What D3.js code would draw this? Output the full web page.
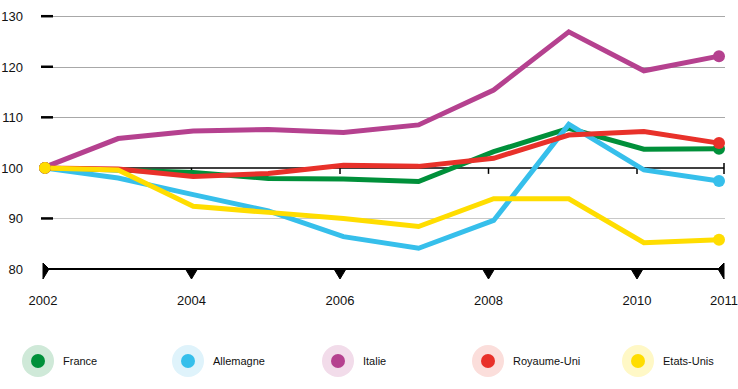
<!DOCTYPE html>
<html><head><meta charset="utf-8">
<script src="https://cdn.jsdelivr.net/npm/d3@7/dist/d3.min.js"></script>
<style>body{margin:0;background:#fff}svg{display:block;font-family:"Liberation Sans",Arial,sans-serif}</style>
</head><body><svg id="c" width="738" height="389"></svg>
<script>
const years = [2002,2003,2004,2005,2006,2007,2008,2009,2010,2011];
const tickYears = [2002,2004,2006,2008,2010,2011];
const yTicks = [80,90,100,110,120,130];
const seriesNames = ["France","Allemagne","Italie","Royaume-Uni","Etats-Unis"];
const france = [100,99.6,99.1,97.9,97.8,97.3,103.2,107.8,103.7,103.8];
const allemagne = [100,98.0,94.7,91.5,86.4,84.1,89.6,108.6,99.6,97.4];
const italie = [100,105.8,107.3,107.6,107.0,108.5,115.4,126.9,119.2,122.1];
const royaumeUni = [100,99.8,98.3,98.9,100.5,100.3,101.9,106.5,107.2,104.9];
const etatsUnis = [100,99.6,92.4,91.2,90.0,88.4,93.9,93.9,85.2,85.8];
const colors = ["#00903a","#36bfeb","#b5418f","#e8312a","#ffdd00"];
const halos = ["#cfe9d8","#dff3fb","#f2dcea","#fbdedb","#fff8c6"];
const values = [france, allemagne, italie, royaumeUni, etatsUnis];
const drawOrder = [0,2,1,3,4];

const svg = d3.select("#c");
const x = d3.scaleLinear().domain([2002,2011]).range([43,719]);
const plotRight = 724;
// axis tick scale (the original axis is laid out slightly tighter; last tick sits at the axis end)
const xAxis = d3.scaleLinear().domain([2002,2010]).range([43,637]);
const tx = d => d === 2011 ? plotRight : xAxis(d);
const y = d3.scaleLinear().domain([80,130]).range([269,16.2]);
const gridX0 = 53, gridX1 = 725;

// gridlines
svg.selectAll(".grid").data(yTicks.filter(v=>v!==80 && v!==100)).join("line")
  .attr("x1",gridX0).attr("x2",gridX1)
  .attr("y1",d=>Math.round(y(d))+0.5).attr("y2",d=>Math.round(y(d))+0.5)
  .attr("stroke",d=>d===90?"#c8c8c8":"#a8a8a8").attr("stroke-width",1.2);
// y tick dashes
svg.selectAll(".ydash").data(yTicks.filter(v=>v!==80)).join("line")
  .attr("x1",41).attr("x2",53)
  .attr("y1",d=>y(d)).attr("y2",d=>y(d))
  .attr("stroke","#000").attr("stroke-width",2.5);
// y labels
svg.selectAll(".ylab").data(yTicks).join("text")
  .attr("x",23).attr("y",d=>y(d)+5)
  .attr("text-anchor","end").attr("font-size",13).attr("fill","#111")
  .text(d=>d);

// 100 baseline
const y100 = y(100);
svg.append("line").attr("x1",43).attr("x2",plotRight).attr("y1",y100).attr("y2",y100)
  .attr("stroke","#000").attr("stroke-width",1.5);
svg.selectAll(".t100").data(tickYears.slice(1,-1)).join("line")
  .attr("x1",d=>tx(d)).attr("x2",d=>tx(d)).attr("y1",y100).attr("y2",y100+6)
  .attr("stroke","#000").attr("stroke-width",1.5);
svg.append("line").attr("x1",tx(2011)).attr("x2",tx(2011)).attr("y1",y100-5).attr("y2",y100+6)
  .attr("stroke","#000").attr("stroke-width",1.5);

// bottom axis
const y80 = y(80);
svg.append("line").attr("x1",43).attr("x2",plotRight).attr("y1",y80).attr("y2",y80)
  .attr("stroke","#000").attr("stroke-width",2);
svg.selectAll(".tri").data(tickYears).join("path")
  .attr("d",(d,i)=>{
    const cx = tx(d);
    if(i===0) return `M${cx},${y80-6}L${cx},${y80+10}L${cx+6},${y80}Z`;
    if(i===tickYears.length-1) return `M${cx},${y80-6}L${cx},${y80+10}L${cx-6},${y80}Z`;
    return `M${cx-6},${y80}L${cx+6},${y80}L${cx},${y80+10}Z`;
  }).attr("fill","#000").attr("stroke","#000").attr("stroke-width",1);
svg.selectAll(".xlab").data(tickYears).join("text")
  .attr("x",d=>tx(d)).attr("y",305)
  .attr("text-anchor","middle").attr("font-size",13).attr("fill","#111")
  .text(d=>d);

// lines
const line = d3.line().x((d,i)=>x(years[i])).y(d=>y(d));
const g = svg.append("g");
drawOrder.forEach(k=>{
  g.append("path").datum(values[k]).attr("d",line)
    .attr("fill","none").attr("stroke",colors[k]).attr("stroke-width",5)
    .attr("stroke-linejoin","miter").attr("stroke-miterlimit",2);
});
drawOrder.forEach(k=>{
  const v = values[k];
  g.selectAll(null).data([0, v.length-1]).join("circle")
    .attr("cx",i=>x(years[i])+(i===0?2:0)).attr("cy",i=>y(v[i])).attr("r",6)
    .attr("fill",colors[k]);
});

// legend
const lx = d3.scalePoint().domain(seriesNames).range([38,638]);
const lg = svg.selectAll(".leg").data(seriesNames).join("g")
  .attr("transform",d=>`translate(${lx(d)},361)`);
lg.append("circle").attr("r",16).attr("fill",(d,i)=>halos[i]);
lg.append("circle").attr("r",7).attr("fill",(d,i)=>colors[i]);
lg.append("text").attr("x",25).attr("y",4).attr("font-size",11).attr("fill","#111").text(d=>d);
</script></body></html>
